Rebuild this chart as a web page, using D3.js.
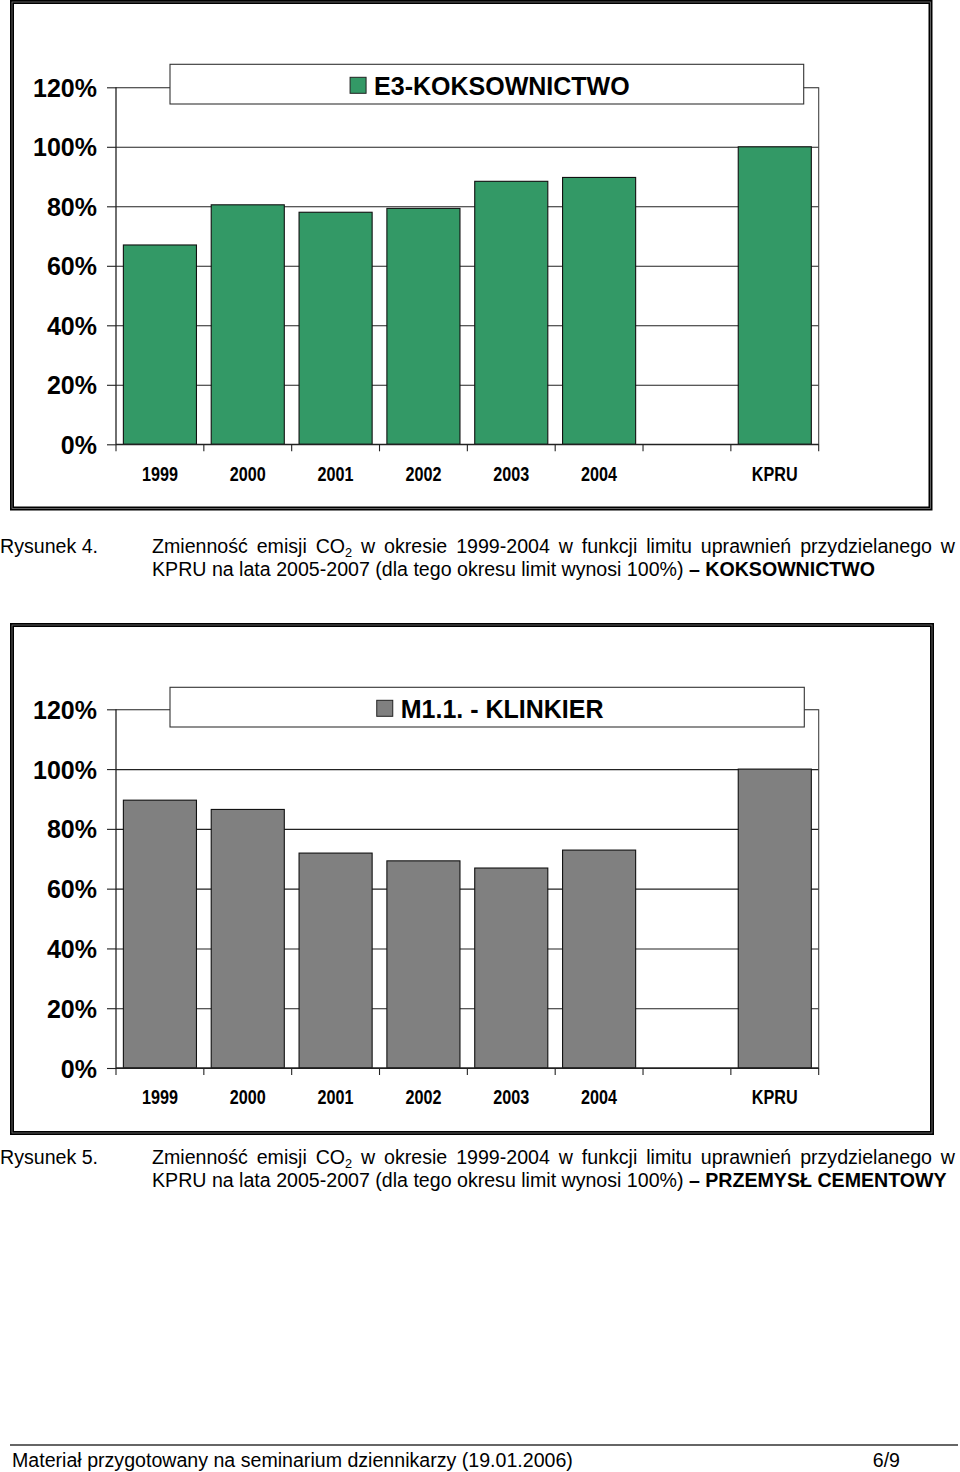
<!DOCTYPE html>
<html>
<head>
<meta charset="utf-8">
<script src="https://cdn.jsdelivr.net/npm/d3@7"></script>
<style>
  html, body { margin: 0; padding: 0; background: #fff; }
  svg { display: block; }
  text { font-family: "Liberation Sans", Arial, sans-serif; fill: #000; }
</style>
</head>
<body>
<svg id="page" width="960" height="1472"></svg>
<script>
// ---------- DATA ----------
const categories = ["1999", "2000", "2001", "2002", "2003", "2004", " ", "KPRU"];
const koksownictwoValues = [67, 80.5, 78, 79.3, 88.4, 89.7, null, 100];
const klinkierValues = [89.6, 86.5, 71.9, 69.3, 66.9, 72.9, null, 100];
const yTickValues = [0, 20, 40, 60, 80, 100, 120];
const legendLabels = ["E3-KOKSOWNICTWO", "M1.1. - KLINKIER"];
const seriesColors = ["#339966", "#808080"];

const caption1Line1 = ["Zmienność", "emisji", "CO|2", "w", "okresie", "1999-2004", "w", "funkcji", "limitu", "uprawnień", "przydzielanego", "w"];
const caption1Line2 = "KPRU na lata 2005-2007 (dla tego okresu limit wynosi 100%) ";
const caption1Bold = "– KOKSOWNICTWO";
const caption2Line2 = "KPRU na lata 2005-2007 (dla tego okresu limit wynosi 100%) ";
const caption2Bold = "– PRZEMYSŁ CEMENTOWY";
const footerText = "Materiał przygotowany na seminarium dziennikarzy (19.01.2006)";
const pageText = "6/9";

// ---------- DRAW ----------
const svg = d3.select("#page");

function drawChart(cfg) {
  const g = svg.append("g");
  // frame
  g.append("rect").attr("x", cfg.frame[0]).attr("y", cfg.frame[1])
    .attr("width", cfg.frame[2]).attr("height", cfg.frame[3])
    .attr("fill", "#fff").attr("stroke", "#000").attr("stroke-width", 4);
  g.append("rect").attr("x", cfg.frame[0]).attr("y", cfg.frame[1])
    .attr("width", cfg.frame[2]).attr("height", cfg.frame[3])
    .attr("fill", "none").attr("stroke", "#777").attr("stroke-width", 0.8);

  const x = d3.scaleBand().domain(categories).range([cfg.x0, cfg.x1])
    .paddingInner(0.168).paddingOuter(0.084);
  const y = d3.scaleLinear().domain([0, 120]).range([cfg.y0, cfg.y120]);

  // gridlines
  const grid = g.append("g").attr("transform", `translate(${cfg.x0},0)`)
    .call(d3.axisLeft(y).tickValues(yTickValues).tickSize(-(cfg.x1 - cfg.x0)).tickFormat(""));
  grid.select(".domain").remove();
  grid.selectAll("line").attr("stroke", "#222").attr("stroke-width", 1.1);

  // right border of plot area
  g.append("line").attr("x1", cfg.x1).attr("x2", cfg.x1)
    .attr("y1", y(120)).attr("y2", y(0)).attr("stroke", "#444").attr("stroke-width", 1.1);

  // bars
  g.selectAll("rect.bar").data(categories.map((c, i) => ({ c, v: cfg.values[i] })).filter(d => d.v != null))
    .enter().append("rect").attr("class", "bar")
    .attr("x", d => x(d.c)).attr("width", x.bandwidth())
    .attr("y", d => y(d.v)).attr("height", d => y(0) - y(d.v))
    .attr("fill", cfg.color).attr("stroke", "#111").attr("stroke-width", 1.1);

  // y axis
  const ya = g.append("g").attr("transform", `translate(${cfg.x0},0)`)
    .call(d3.axisLeft(y).tickValues(yTickValues).tickSize(9).tickPadding(10).tickFormat(d => d + "%"));
  ya.select(".domain").attr("stroke", "#222").attr("stroke-width", 1.3).attr("d", `M0,${y(120)}V${y(0)}`);
  ya.selectAll("line").attr("stroke", "#222").attr("stroke-width", 1.1);
  ya.selectAll("text").attr("font-size", 25).attr("font-weight", "bold")
    .attr("font-family", "Liberation Sans, Arial, sans-serif").attr("fill", "#000").attr("dy", "0.36em");

  // x axis line + boundary ticks
  g.append("line").attr("x1", cfg.x0).attr("x2", cfg.x1).attr("y1", y(0)).attr("y2", y(0))
    .attr("stroke", "#222").attr("stroke-width", 1.3);
  const bounds = d3.range(categories.length + 1).map(i => cfg.x0 + i * x.step());
  g.selectAll("line.xt").data(bounds).enter().append("line").attr("class", "xt")
    .attr("x1", d => d).attr("x2", d => d).attr("y1", y(0)).attr("y2", y(0) + 7)
    .attr("stroke", "#222").attr("stroke-width", 1.1);

  const xa = g.append("g").attr("transform", `translate(0,${y(0)})`)
    .call(d3.axisBottom(x).tickSize(0).tickPadding(0));
  xa.select(".domain").remove();
  xa.selectAll("text").attr("y", 36.4).attr("dy", 0)
    .attr("font-size", 19.5).attr("font-weight", "bold")
    .attr("font-family", "Liberation Sans, Arial, sans-serif").attr("fill", "#000")
    .attr("transform", "scale(0.83,1)");

  // legend
  const lg = g.append("g");
  lg.append("rect").attr("x", cfg.legend[0]).attr("y", cfg.legend[1])
    .attr("width", cfg.legend[2]).attr("height", cfg.legend[3])
    .attr("fill", "#fff").attr("stroke", "#333").attr("stroke-width", 1.1);
  const lt = lg.append("text").attr("font-size", 25).attr("font-weight", "bold")
    .attr("y", cfg.legend[1] + 30.7).text(cfg.label);
  const tw = lt.node().getComputedTextLength();
  const total = 16 + 8 + tw;
  const cx = cfg.legend[0] + cfg.legend[2] / 2 + 3;
  const sx = cx - total / 2;
  lg.append("rect").attr("x", sx).attr("y", cfg.legend[1] + 13).attr("width", 16).attr("height", 16)
    .attr("fill", cfg.color).attr("stroke", "#222").attr("stroke-width", 1);
  lt.attr("x", sx + 24);
}

drawChart({
  frame: [12, 2, 918.5, 506.5],
  x0: 116, x1: 818.7, y0: 444.3, y120: 87.3,
  values: koksownictwoValues, color: seriesColors[0], label: legendLabels[0],
  legend: [170, 64.3, 633.7, 39.7]
});
drawChart({
  frame: [12, 625, 920, 508],
  x0: 116, x1: 818.7, y0: 1068, y120: 709.3,
  values: klinkierValues, color: seriesColors[1], label: legendLabels[1],
  legend: [170, 687.3, 634.3, 39.7]
});

// ---------- CAPTIONS ----------
const FS = 19.6;
function addWord(parent, word, x, y) {
  const t = parent.append("text").attr("x", x).attr("y", y).attr("font-size", FS);
  const parts = word.split("|");
  t.append("tspan").text(parts[0]);
  if (parts[1]) t.append("tspan").attr("font-size", FS * 0.65).attr("dy", 4).text(parts[1]);
  return t;
}
function justifiedLine(words, x0, x1, y) {
  const g = svg.append("g");
  const nodes = words.map(w => addWord(g, w, 0, y));
  const widths = nodes.map(n => n.node().getComputedTextLength());
  const sum = d3.sum(widths);
  const gap = (x1 - x0 - sum) / (words.length - 1);
  let cx = x0;
  nodes.forEach((n, i) => { n.attr("x", cx); cx += widths[i] + gap; });
}
function caption(num, line1, line2, bold, yBase) {
  svg.append("text").attr("x", 0).attr("y", yBase).attr("font-size", FS).text("Rysunek " + num + ".");
  justifiedLine(line1, 152, 955, yBase);
  const t = svg.append("text").attr("x", 152).attr("y", yBase + 23).attr("font-size", FS);
  t.append("tspan").text(line2);
  t.append("tspan").attr("font-weight", "bold").text(bold);
}
caption(4, caption1Line1, caption1Line2, caption1Bold, 553);
caption(5, caption1Line1, caption2Line2, caption2Bold, 1164);

// ---------- FOOTER ----------
svg.append("line").attr("x1", 10).attr("x2", 958).attr("y1", 1445).attr("y2", 1445)
  .attr("stroke", "#333").attr("stroke-width", 1.5);
svg.append("text").attr("x", 12).attr("y", 1467).attr("font-size", FS).text(footerText);
svg.append("text").attr("x", 900).attr("y", 1467).attr("font-size", FS).attr("text-anchor", "end").text(pageText);
</script>
</body>
</html>
